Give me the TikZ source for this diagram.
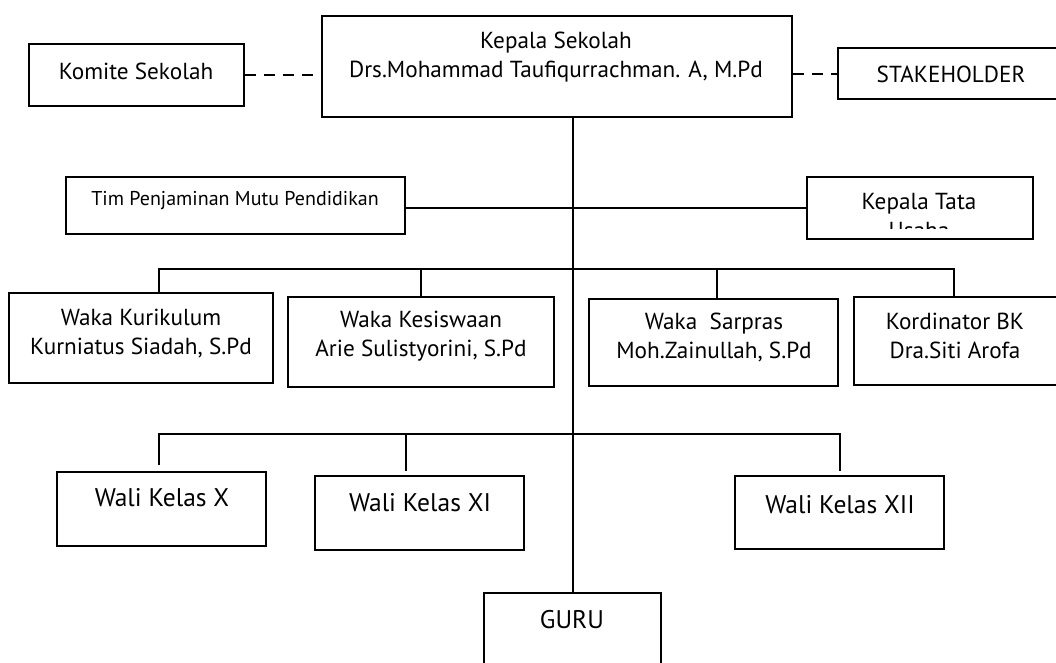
\documentclass[tikz,border=0pt]{standalone}
\usepackage{fontspec}
\setmainfont{PT Sans}
\usetikzlibrary{fit}

\begin{document}
\begin{tikzpicture}[x=1pt, y=-1pt, line width=2pt,
    box/.style={draw, inner sep=0pt},
    txt/.style={align=center, inner sep=0pt, font=\fontsize{23.2}{29}\selectfont},
    small/.style={font=\fontsize{20}{24}\selectfont},
    big/.style={font=\fontsize{25.5}{30}\selectfont},
    link/.style={dash pattern=on 11pt off 8pt}]
  \useasboundingbox (0,0) rectangle (1056,662);
  \clip (0,0) rectangle (1056,662);

  % kepala sekolah and partners
  \node[box, fit={(322,16) (792,117)}] (kepsek) {};
  \node[txt] (kepsek-t) at (556,57) {Kepala Sekolah\\Drs.Mohammad Taufiqurrachman. A, M.Pd};
  \node[box, fit={(29,44) (244,106)}] (komite) {};
  \node[txt] (komite-t) at (136,71) {Komite Sekolah};
  \node[box, fit={(838,48) (1064,99)}] (stake) {};
  \node[txt] (stake-t) at (951,74) {STAKEHOLDER};

  % staff line
  \node[box, fit={(66,177) (405,234)}] (tim) {};
  \node[txt, small] (tim-t) at (235,201) {Tim Penjaminan Mutu Pendidikan};
  \node[box, fit={(807,177) (1033,239)}] (ktu) {};
  \begin{scope}
    \clip (807,177) rectangle (1033,228);
    \node[txt] (ktu-t) at (919,216) {Kepala Tata\\Usaha};
  \end{scope}

  % wakil kepala
  \node[box, fit={(9,293) (273,383)}] (kurikulum) {};
  \node[txt] (kurikulum-t) at (141,334) {Waka Kurikulum\\Kurniatus Siadah, S.Pd};
  \node[box, fit={(288,297) (554,387)}] (kesiswaan) {};
  \node[txt] (kesiswaan-t) at (421,336) {Waka Kesiswaan\\Arie Sulistyorini, S.Pd};
  \node[box, fit={(589,299) (838,386)}] (sarpras) {};
  \node[txt] (sarpras-t) at (714,337) {Waka~~Sarpras\\Moh.Zainullah, S.Pd};
  \node[box, fit={(854,297) (1064,385)}] (kordinator) {};
  \node[txt] (kordinator-t) at (955,336) {Kordinator BK\\Dra.Siti Arofa};

  % wali kelas and guru
  \node[box, fit={(57,472) (266,546)}] (walix) {};
  \node[txt, big] (walix-t) at (162,498) {Wali Kelas X};
  \node[box, fit={(315,476) (524,550)}] (walixi) {};
  \node[txt, big] (walixi-t) at (420,503) {Wali Kelas XI};
  \node[box, fit={(735,476) (944,549)}] (walixii) {};
  \node[txt, big] (walixii-t) at (840,505) {Wali Kelas XII};
  \node[box, fit={(484,593) (661,690)}] (guru) {};
  \node[txt, big] (guru-t) at (572,620) {GURU};

  \coordinate (busA) at (573,269);
  \coordinate (busB) at (573,434);

  % connectors
  \draw[link] (komite.east) -- (kepsek.west |- komite.east);
  \draw[link] (kepsek.east |- stake.west) -- (stake.west);
  \draw (guru.north |- kepsek.south) -- (guru.north);
  \draw (tim.east |- ktu.west) -- (ktu.west);
  \draw (159,0 |- kurikulum.north) -- (159,0 |- busA) -- (954,0 |- busA)
    -- (954,0 |- kordinator.north);
  \foreach \n/\x in {kesiswaan/421, sarpras/717}
    \draw (\x,0 |- busA) -- (\x,0 |- \n.north);
  \draw[shorten <=6pt] (159,0 |- walix.north) -- (159,0 |- busB) -- (840,0 |- busB)
    -- +(0,37);
  \draw[shorten >=4pt] (406,0 |- busB) -- (406,0 |- walixi.north);
\end{tikzpicture}
\end{document}
